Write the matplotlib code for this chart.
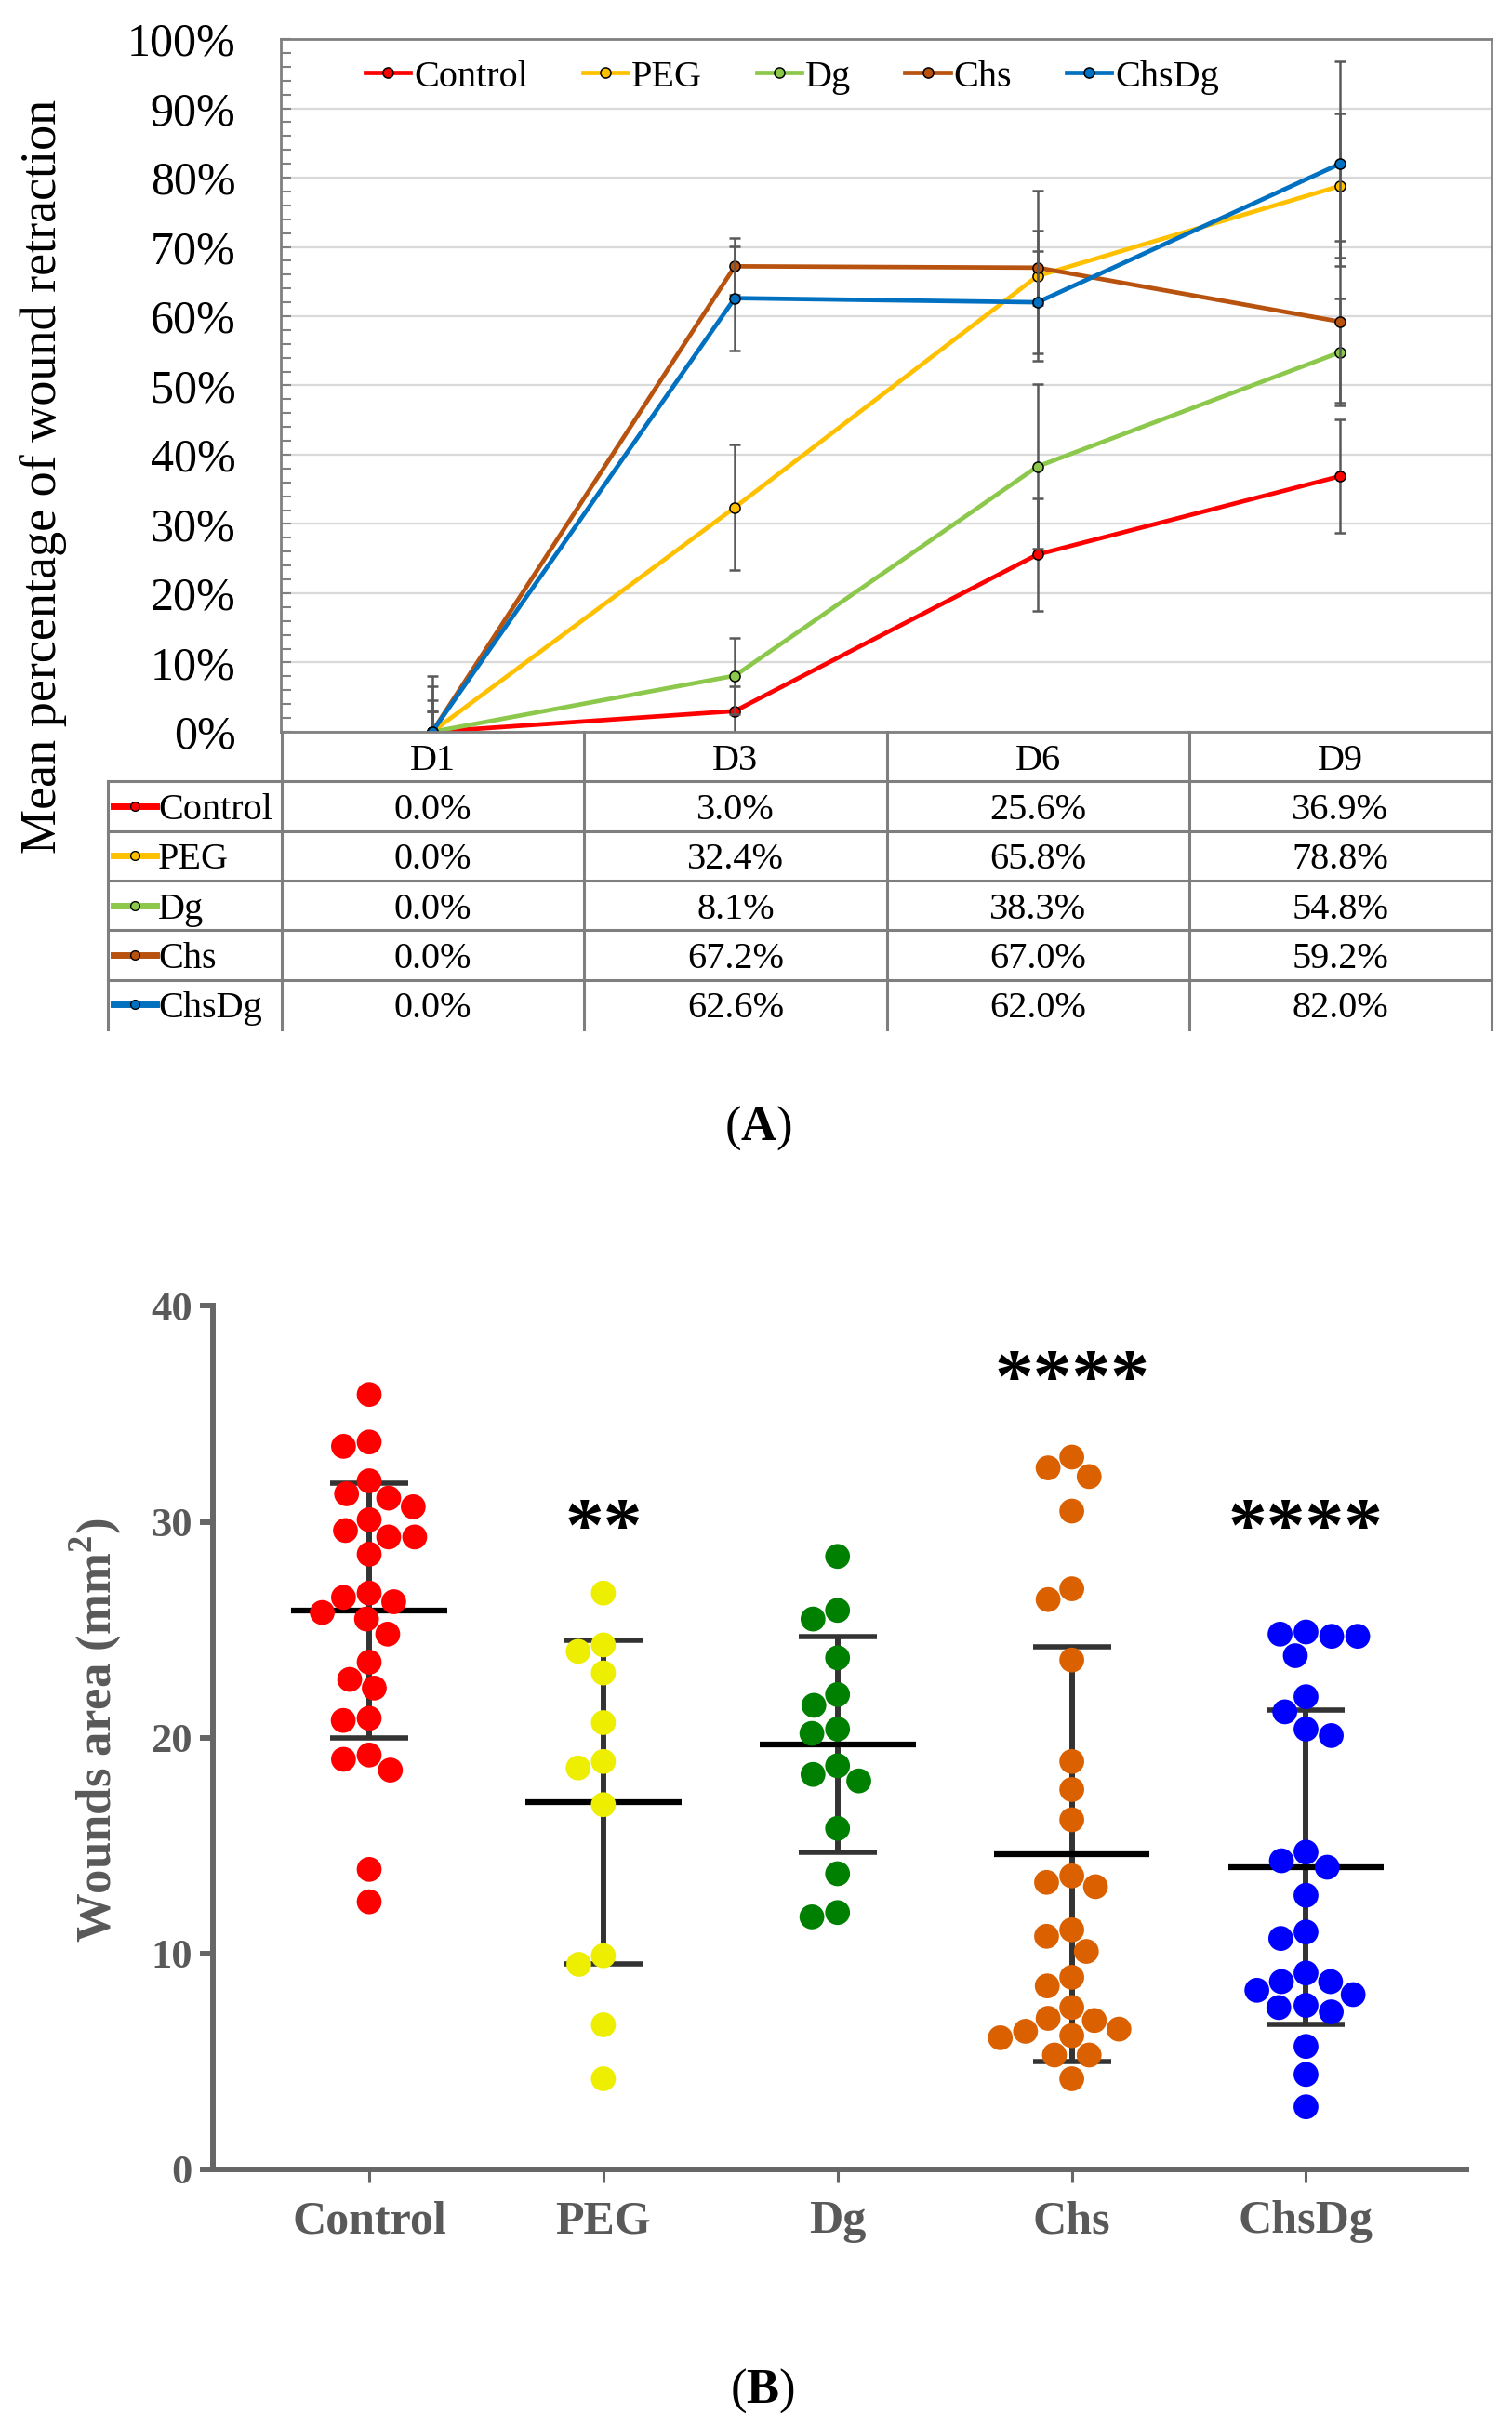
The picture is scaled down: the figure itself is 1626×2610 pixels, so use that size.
import numpy as np
import matplotlib.pyplot as plt
from matplotlib.ticker import MultipleLocator

plt.rcParams['font.family'] = ['Liberation Serif', 'DejaVu Serif']
plt.rcParams['mathtext.fontset'] = 'custom'
plt.rcParams['mathtext.rm'] = 'Liberation Serif'
plt.rcParams['mathtext.bf'] = 'Liberation Serif:bold'

# ---------------- data ----------------
days = ["D1", "D3", "D6", "D9"]
groups = ["Control", "PEG", "Dg", "Chs", "ChsDg"]

# (A) mean percentage of wound retraction and error bars
ret_control = [0.0, 3.0, 25.6, 36.9]
ret_peg = [0.0, 32.4, 65.8, 78.8]
ret_dg = [0.0, 8.1, 38.3, 54.8]
ret_chs = [0.0, 67.2, 67.0, 59.2]
ret_chsdg = [0.0, 62.6, 62.0, 82.0]

err_control = [2.9, 3.6, 8.1, 8.2]
err_peg = [4.5, 9.1, 12.3, 10.4]
err_dg = [2.9, 5.5, 11.9, 7.7]
err_chs = [6.6, 4.1, 5.4, 11.7]
err_chsdg = [8.1, 7.5, 7.4, 14.8]

# (B) wound area (mm2), individual animals
area_control = [35.9, 33.5, 33.7, 31.9, 31.1, 30.7, 31.3, 30.1, 29.3, 29.3,
                29.6, 28.5, 26.7, 26.5, 26.3, 25.8, 25.5, 24.8, 23.5, 22.7,
                22.3, 20.8, 20.9, 19.0, 18.5, 19.2, 13.9, 12.4]
area_peg = [26.7, 24.3, 24.0, 23.0, 20.7, 18.6, 18.9, 16.9, 9.5, 9.9, 6.7, 4.2]
area_dg = [28.4, 25.9, 25.5, 23.7, 22.0, 21.5, 20.2, 20.4, 18.7, 18.3, 18.0,
           15.8, 13.7, 11.7, 11.9]
area_chs = [33.0, 32.5, 32.1, 30.5, 26.9, 26.4, 23.6, 18.9, 17.6, 16.2, 13.6,
            13.1, 13.3, 11.1, 10.8, 10.1, 8.5, 8.9, 7.0, 7.5, 6.5, 6.2, 6.1,
            6.4, 6.9, 5.3, 5.3, 4.2]
area_chsdg = [24.9, 24.7, 24.7, 24.8, 23.8, 21.9, 21.2, 20.1, 20.4, 14.7, 14.3,
              14.0, 12.7, 11.0, 10.7, 9.1, 8.7, 8.1, 7.3, 7.5, 7.6, 8.3, 8.7,
              5.7, 4.4, 2.9]
area_mean = [25.9, 17.0, 19.7, 14.6, 14.0]
area_sd = [5.9, 7.5, 5.0, 9.6, 7.3]
stars = ["", "**", "", "****", "****"]

ret_vals = [ret_control, ret_peg, ret_dg, ret_chs, ret_chsdg]
ret_errs = [err_control, err_peg, err_dg, err_chs, err_chsdg]
areas = [area_control, area_peg, area_dg, area_chs, area_chsdg]

line_colors = ["#FF0000", "#FFC000", "#8CC84B", "#B8520F", "#0070C0"]
dot_colors = ["#FF0000", "#EEEE00", "#008000", "#DA6000", "#0000FF"]

W, H = 1626, 2610


def box(x0, y0, x1, y1):
    # pixel box measured from top-left -> figure rect
    return [x0 / W, 1 - y1 / H, (x1 - x0) / W, (y1 - y0) / H]


def swarm(vals, xc, ax, d):
    # simple beeswarm in pixel space, d = min distance between dot centres
    tr = ax.transData
    ys = tr.transform(np.column_stack([np.full(len(vals), xc), vals]))[:, 1]
    offs = np.zeros(len(vals))
    placed = []
    for i in np.argsort(-np.asarray(vals), kind='stable'):
        y = ys[i]
        cands = [0.0]
        for dx, yy in placed:
            dy = abs(yy - y)
            if dy < d:
                h = np.sqrt(d * d - dy * dy)
                cands += [dx - h, dx + h]
        cands.sort(key=abs)
        for c in cands:
            if all((c - dx) ** 2 + (yy - y) ** 2 >= d * d - 1e-6 for dx, yy in placed):
                offs[i] = c
                placed.append((c, y))
                break
    ppu = tr.transform([[1, 0]])[0, 0] - tr.transform([[0, 0]])[0, 0]
    return xc + offs / ppu


fig = plt.figure(figsize=(W / 100, H / 100), dpi=100)

# ---------------- panel A ----------------
axA = fig.add_axes(box(302, 42, 1604, 787))
xs = np.arange(len(days)) + 0.5
handles = []
for k, (name, vals, errs, col) in enumerate(zip(groups, ret_vals, ret_errs, line_colors)):
    axA.errorbar(xs, vals, yerr=errs, fmt='none', ecolor='#595959', elinewidth=1.8,
                 capsize=4, capthick=1.8, zorder=2 + k * 0.1)
    h, = axA.plot(xs, vals, '-o', color=col, lw=3.4, ms=8, mec='black', mew=1.1,
                  label=name, zorder=2.05 + k * 0.1)
    handles.append(h)

axA.set_xlim(0, 4)
axA.set_ylim(0, 100)
axA.set_xticks([])
axA.set_yticks(range(0, 101, 10))
axA.set_yticklabels([f"{v}%" for v in range(0, 101, 10)])
axA.yaxis.set_minor_locator(MultipleLocator(2))
axA.tick_params(axis='y', which='both', direction='in', length=8, width=1.5,
                color='#808080', labelsize=36, pad=35)
axA.yaxis.grid(True, color='#d9d9d9', lw=1.6)
axA.set_axisbelow(True)
for sp in axA.spines.values():
    sp.set_color('#808080')
    sp.set_linewidth(2)

axA.legend(handles=handles, loc='center', bbox_to_anchor=(852 / W, 1 - 83 / H),
           bbox_transform=fig.transFigure, ncol=5, frameon=False, fontsize=29,
           handlelength=1.2, handletextpad=0.1, columnspacing=1.45,
           borderpad=0, borderaxespad=0)

fig.text(47 / W, 1 - 512 / H, "Mean percentage of wound retraction", rotation=90,
         ha='center', va='center', fontsize=39)

# data table under panel A
axT = fig.add_axes(box(116, 787, 1604, 1107))
axT.set_xlim(116, 1604)
axT.set_ylim(1107, 787)
axT.axis('off')
col_edges = np.linspace(303, 1604, len(days) + 1)
row_h = (1107 - 787) / 6
grid_kw = dict(color='#7f7f7f', lw=2.2, clip_on=False)
for x in col_edges:
    axT.plot([x, x], [787, 1107], **grid_kw)
axT.plot([116, 116], [787 + row_h, 1107], **grid_kw)
for r in range(1, 6):
    y = 787 + r * row_h
    axT.plot([116, 1604], [y, y], **grid_kw)
centers = (col_edges[:-1] + col_edges[1:]) / 2
for j, d in enumerate(days):
    axT.text(centers[j], 787 + row_h / 2, d, ha='center', va='center_baseline', fontsize=29)
for r, (name, vals, col) in enumerate(zip(groups, ret_vals, line_colors)):
    yc = 787 + (r + 1.5) * row_h
    axT.plot([122, 168], [yc, yc], color=col, lw=5, clip_on=False)
    axT.plot([145], [yc], 'o', color=col, ms=7, mec='black', mew=1, clip_on=False)
    axT.text(170, yc, name, ha='left', va='center_baseline', fontsize=29)
    for j, v in enumerate(vals):
        axT.text(centers[j], yc, f"{v:.1f}%", ha='center', va='center_baseline', fontsize=29)

fig.text(815 / W, 1 - 1213 / H, r"($\mathbf{A}$)", ha='center', va='center', fontsize=38)

# ---------------- panel B ----------------
axB = fig.add_axes(box(229, 1404.5, 1577, 2333))
axB.set_xlim(0.333, 5.685)
axB.set_ylim(0, 40)

for i, (vals, col) in enumerate(zip(areas, dot_colors)):
    xc = i + 1
    xsw = swarm(vals, xc, axB, d=28)
    axB.scatter(xsw, vals, s=370, color=col, edgecolors='none', zorder=3, clip_on=False)
    axB.errorbar(xc, area_mean[i], yerr=area_sd[i], fmt='none', ecolor='#333333',
                 elinewidth=4.3, capsize=30, capthick=4, zorder=2)
    axB.hlines(area_mean[i], xc - 0.333, xc + 0.333, color='black', lw=4.5, zorder=2)

star_level = [0, 30.4, 0, 37.3, 30.4]
for i, st in enumerate(stars):
    if st:
        axB.text(i + 1, star_level[i] - 1.7, st, ha='center', va='baseline',
                 fontsize=60, fontweight='bold')

for side in ['top', 'right']:
    axB.spines[side].set_visible(False)
for side in ['left', 'bottom']:
    axB.spines[side].set_color('#666666')
    axB.spines[side].set_linewidth(4.3)
axB.set_xticks(range(1, 6))
axB.set_xticklabels(groups)
axB.set_yticks(range(0, 41, 10))
axB.tick_params(axis='x', length=10, width=2.2, color='#666666', labelsize=36,
                labelcolor='#595959', pad=14)
axB.tick_params(axis='y', length=10, width=4.3, color='#666666', labelsize=32,
                labelcolor='#595959', pad=6)
for lbl in axB.get_xticklabels() + axB.get_yticklabels():
    lbl.set_fontweight('bold')

fig.text(103 / W, 1 - 1861 / H, r"Wounds area (mm$^{\mathbf{2}}$)", rotation=90,
         ha='center', va='center', fontsize=38, fontweight='bold', color='#595959')

fig.text(820 / W, 1 - 2571 / H, r"($\mathbf{B}$)", ha='center', va='center', fontsize=38)

fig.savefig("out.png", dpi=100)
